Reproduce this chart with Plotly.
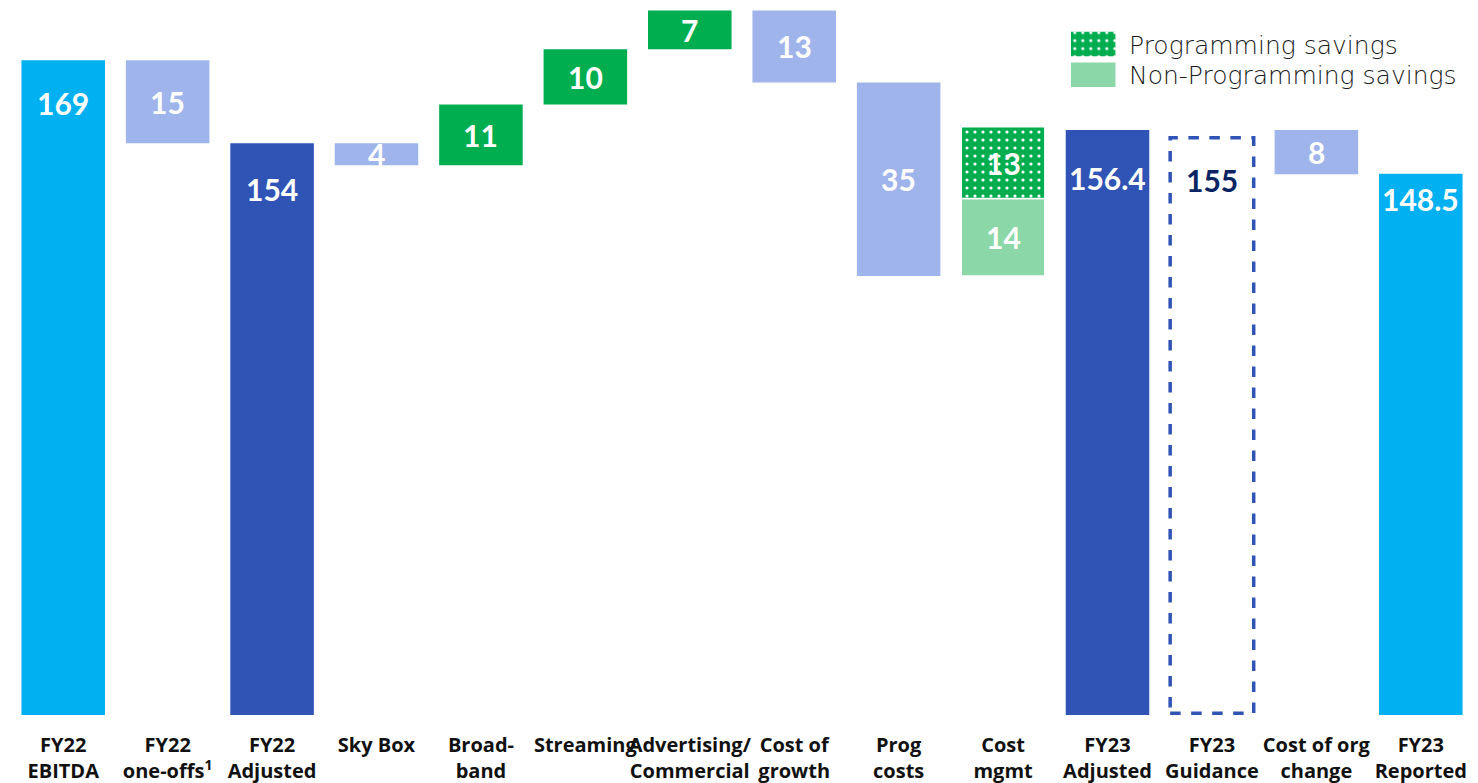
import plotly.graph_objects as go

# ---------------- data ----------------
categories = ["FY22 EBITDA", "FY22 one-offs", "FY22 Adjusted", "Sky Box", "Broadband",
              "Streaming", "Advertising/Commercial", "Cost of growth", "Prog costs",
              "Cost mgmt", "FY23 Adjusted", "FY23 Guidance", "Cost of org change",
              "FY23 Reported"]
tick_labels = ["FY22<br>EBITDA", "FY22<br>one-offs<sup>1</sup>", "FY22<br>Adjusted", "Sky Box",
               "Broad-<br>band", "Streaming", "Advertising/<br>Commercial", "Cost of<br>growth",
               "Prog<br>costs", "Cost<br>mgmt", "FY23<br>Adjusted", "FY23<br>Guidance",
               "Cost of org<br>change", "FY23<br>Reported"]

total_cats = ["FY22 EBITDA", "FY22 Adjusted", "FY23 Adjusted", "FY23 Reported"]
total_values = [169, 154, 156.4, 148.5]

guidance_cat = "FY23 Guidance"
guidance_value = 155

delta_cats = ["FY22 one-offs", "Sky Box", "Broadband", "Streaming", "Advertising/Commercial",
              "Cost of growth", "Prog costs", "Cost of org change"]
delta_values = [-15, -4, 11, 10, 7, -13, -35, -8]

savings_cat = "Cost mgmt"
programming_savings = 13
non_programming_savings = 14

legend_names = ["Programming savings", "Non-Programming savings"]

# ---------------- styles ----------------
LIGHT_BLUE = "#00b0f0"
DARK_BLUE = "#3053b6"
LAVENDER = "#9fb4ea"
GREEN = "#00ad4f"
LIGHT_GREEN = "#8bd7a8"
NAVY = "#0a2463"
TEXT = "#111111"
FONT = "Lato"
TICK_FONT = "Open Sans"
LEGEND_FONT = "DejaVu Sans"
BAR_W = 0.8
Y_RANGE = [50.6, 179.9]
total_colors = [LIGHT_BLUE, DARK_BLUE, DARK_BLUE, LIGHT_BLUE]
total_label_shift = [-43, -46, -48, -25]
NUM_SIZE = 30

# ---------------- running levels ----------------
level = None
delta_bases = {}
savings_base = None
tot_map = dict(zip(total_cats, total_values))
dlt_map = dict(zip(delta_cats, delta_values))
for c in categories:
    if c in tot_map:
        level = tot_map[c]
    elif c in dlt_map:
        d = dlt_map[c]
        delta_bases[c] = min(level, level + d)
        level = level + d
    elif c == savings_cat:
        savings_base = level
        level = level + non_programming_savings + programming_savings

fig = go.Figure()

# totals
fig.add_trace(go.Bar(
    x=total_cats, y=total_values, width=BAR_W,
    marker=dict(color=total_colors, line=dict(width=0)),
    showlegend=False, hoverinfo="x+y"))

# deltas
fig.add_trace(go.Bar(
    x=delta_cats, y=[abs(d) for d in delta_values],
    base=[delta_bases[c] for c in delta_cats], width=BAR_W,
    marker=dict(color=[GREEN if d > 0 else LAVENDER for d in delta_values], line=dict(width=0)),
    showlegend=False))

# cost management split
fig.add_trace(go.Bar(
    x=[savings_cat], y=[non_programming_savings], base=[savings_base], width=BAR_W,
    marker=dict(color=LIGHT_GREEN, line=dict(color="white", width=1.5)),
    name=legend_names[1], showlegend=False))
fig.add_trace(go.Bar(
    x=[savings_cat], y=[programming_savings], base=[savings_base + non_programming_savings],
    width=BAR_W,
    marker=dict(color=GREEN, line=dict(color="white", width=1.5),
                pattern=dict(shape=".", fgcolor="white", bgcolor=GREEN, size=8,
                             solidity=0.12, fillmode="replace")),
    name=legend_names[0], showlegend=False))

# legend swatches (custom, larger than native)
fig.add_trace(go.Bar(
    y=[legend_names[0]], x=[1], orientation="h", width=0.8, xaxis="x2", yaxis="y2",
    marker=dict(color=GREEN, line=dict(width=0),
                pattern=dict(shape=".", fgcolor="white", bgcolor=GREEN, size=8,
                             solidity=0.12, fillmode="replace")),
    showlegend=False, hoverinfo="skip"))
fig.add_trace(go.Bar(
    y=[legend_names[1]], x=[1], orientation="h", width=0.8, xaxis="x2", yaxis="y2",
    marker=dict(color=LIGHT_GREEN, line=dict(width=0)),
    showlegend=False, hoverinfo="skip"))

annotations = []
# total labels
for c, v, s in zip(total_cats, total_values, total_label_shift):
    annotations.append(dict(x=c, y=v, yshift=s, text=f"<b>{v:g}</b>", showarrow=False,
                            font=dict(family=FONT, size=NUM_SIZE, color="white"),
                            yanchor="middle"))
# guidance
annotations.append(dict(x=guidance_cat, y=guidance_value, yshift=-42,
                        text=f"<b>{guidance_value}</b>", showarrow=False,
                        font=dict(family=FONT, size=NUM_SIZE, color=NAVY), yanchor="middle"))
# delta labels
for c, d in zip(delta_cats, delta_values):
    annotations.append(dict(x=c, y=delta_bases[c] + abs(d) / 2, text=f"<b>{abs(d)}</b>",
                            showarrow=False, font=dict(family=FONT, size=NUM_SIZE, color="white"),
                            yanchor="middle"))
annotations.append(dict(x=savings_cat, y=savings_base + non_programming_savings / 2,
                        text=f"<b>{non_programming_savings}</b>", showarrow=False,
                        font=dict(family=FONT, size=NUM_SIZE, color="white"), yanchor="middle"))
annotations.append(dict(x=savings_cat,
                        y=savings_base + non_programming_savings + programming_savings / 2,
                        text=f"<b>{programming_savings}</b>", showarrow=False,
                        font=dict(family=FONT, size=NUM_SIZE, color="white"), yanchor="middle"))
# legend text
for i, n in enumerate(legend_names):
    annotations.append(dict(xref="paper", yref="y2", x=0.7635, y=n, text=n, showarrow=False,
                            xanchor="left", yanchor="middle", yshift=-1,
                            font=dict(family=LEGEND_FONT, size=25, color="#1a1a1a", weight=200)))

gi = categories.index(guidance_cat)
shapes = [dict(type="rect", xref="x", yref="y", x0=gi - BAR_W / 2, x1=gi + BAR_W / 2,
               y0=Y_RANGE[0] + 0.3, y1=guidance_value,
               line=dict(color=DARK_BLUE, width=3.5, dash="dash"), fillcolor="rgba(0,0,0,0)")]

fig.update_layout(
    width=1478, height=783,
    margin=dict(l=11, r=5, t=0, b=68),
    paper_bgcolor="white", plot_bgcolor="white",
    barmode="overlay", bargap=0.2,
    showlegend=False,
    font=dict(family=FONT, color=TEXT),
    xaxis=dict(type="category", categoryorder="array", categoryarray=categories,
               tickmode="array", tickvals=categories, ticktext=tick_labels, tickangle=0,
               tickfont=dict(family=TICK_FONT, size=20, color=TEXT, weight="bold"),
               showgrid=False, zeroline=False, showline=False, ticks="",
               ticklabelstandoff=16, range=[-0.5, len(categories) - 0.5]),
    yaxis=dict(range=Y_RANGE, visible=False, showgrid=False, zeroline=False),
    xaxis2=dict(domain=[0.7249, 0.7556], range=[0, 1], visible=False, anchor="y2",
                fixedrange=True),
    yaxis2=dict(domain=[0.871, 0.960], visible=False, anchor="x2", type="category",
                categoryorder="array", categoryarray=legend_names[::-1], fixedrange=True),
    annotations=annotations,
    shapes=shapes,
)

fig.write_html("out.html")
